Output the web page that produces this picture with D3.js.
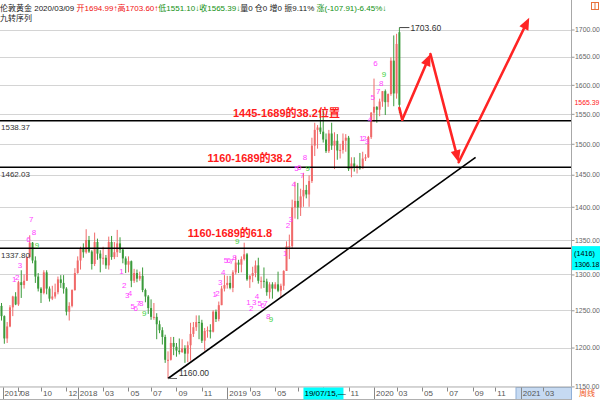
<!DOCTYPE html>
<html><head><meta charset="utf-8">
<script src="https://cdn.jsdelivr.net/npm/d3@7"></script>
<style>
body{margin:0;background:#fff;}
svg{display:block;font-family:"Liberation Sans",Arial,"Noto Sans CJK SC",sans-serif;}
</style>
</head><body><svg id="c" width="600" height="400"></svg>
<script>
// ---------- DATA ----------
const dates = ["2017-06-26","2017-07-03","2017-07-10","2017-07-17","2017-07-24","2017-07-31","2017-08-07","2017-08-14","2017-08-21","2017-08-28","2017-09-04","2017-09-11","2017-09-18","2017-09-25","2017-10-02","2017-10-09","2017-10-16","2017-10-23","2017-10-30","2017-11-06","2017-11-13","2017-11-20","2017-11-27","2017-12-04","2017-12-11","2017-12-18","2017-12-25",
"2018-01-01","2018-01-08","2018-01-15","2018-01-22","2018-01-29","2018-02-05","2018-02-12","2018-02-19","2018-02-26","2018-03-05","2018-03-12","2018-03-19","2018-03-26","2018-04-02","2018-04-09","2018-04-16","2018-04-23","2018-04-30","2018-05-07","2018-05-14","2018-05-21","2018-05-28","2018-06-04","2018-06-11","2018-06-18","2018-06-25","2018-07-02","2018-07-09","2018-07-16","2018-07-23","2018-07-30","2018-08-06","2018-08-13","2018-08-20","2018-08-27","2018-09-03","2018-09-10","2018-09-17","2018-09-24","2018-10-01","2018-10-08","2018-10-15","2018-10-22","2018-10-29","2018-11-05","2018-11-12","2018-11-19","2018-11-26","2018-12-03","2018-12-10","2018-12-17","2018-12-24","2018-12-31",
"2019-01-07","2019-01-14","2019-01-21","2019-01-28","2019-02-04","2019-02-11","2019-02-18","2019-02-25","2019-03-04","2019-03-11","2019-03-18","2019-03-25","2019-04-01","2019-04-08","2019-04-15","2019-04-22","2019-04-29","2019-05-06","2019-05-13","2019-05-20","2019-05-27","2019-06-03","2019-06-10","2019-06-17","2019-06-24","2019-07-01","2019-07-08","2019-07-15","2019-07-22","2019-07-29","2019-08-05","2019-08-12","2019-08-19","2019-08-26","2019-09-02","2019-09-09","2019-09-16","2019-09-23","2019-09-30","2019-10-07","2019-10-14","2019-10-21","2019-10-28","2019-11-04","2019-11-11","2019-11-18","2019-11-25","2019-12-02","2019-12-09","2019-12-16","2019-12-23","2019-12-30",
"2020-01-06","2020-01-13","2020-01-20","2020-01-27","2020-02-03","2020-02-10","2020-02-17","2020-02-24","2020-03-02","2020-03-09"];
const opens = [1256,1242,1212,1228,1254,1269,1258,1289,1285,1291,1325,1346,1320,1297,1280,1274,1303,1280,1266,1269,1275,1293,1288,1280,1248,1256,1278,
1302,1320,1338,1332,1350,1333,1315,1347,1330,1323,1324,1313,1347,1325,1332,1345,1336,1323,1314,1319,1291,1302,1294,1298,1278,1269,1253,1241,1241,1231,1223,1214,1184,1184,1206,1201,1196,1194,1199,1192,1203,1218,1227,1234,1233,1209,1222,1223,1221,1248,1238,1257,1280,
1285,1288,1281,1303,1317,1314,1322,1329,1293,1298,1302,1313,1291,1291,1290,1275,1286,1280,1286,1277,1284,1305,1341,1341,1399,1409,1399,1416,1426,1419,1440,1497,1523,1527,1520,1507,1488,1517,1497,1505,1489,1490,1505,1510,1459,1468,1462,1464,1460,1476,1478,1511,
1552,1562,1557,1571,1589,1570,1584,1643,1585,1694.99];
const highs = [1260,1243,1234,1257,1270,1275,1291,1306,1300,1326,1357,1347,1326,1302,1282,1306,1306,1283,1284,1287,1297,1299,1299,1282,1261,1279,1309,
1326,1340,1345,1366,1356,1335,1361,1352,1335,1340,1328,1355,1356,1347,1365,1354,1337,1326,1326,1320,1308,1307,1304,1310,1280,1271,1265,1260,1246,1236,1227,1217,1195,1214,1214,1206,1212,1211,1203,1208,1233,1234,1243,1243,1237,1226,1228,1231,1250,1251,1262,1284,1299,
1298,1298,1306,1326,1321,1326,1346,1331,1299,1311,1320,1324,1297,1310,1294,1289,1289,1289,1304,1287,1306,1348,1358,1411,1439,1437,1428,1453,1434,1449,1510,1535,1531,1555,1557,1517,1523,1535,1519,1516,1500,1517,1516,1513,1478,1478,1466,1485,1487,1483,1513,1553,
1611,1563,1576,1589,1592,1585,1649,1689,1692,1703.6];
const lows = [1236,1205,1206,1227,1242,1257,1256,1267,1280,1291,1323,1316,1288,1276,1260,1272,1272,1262,1264,1266,1272,1281,1273,1243,1236,1254,1277,
1301,1307,1324,1330,1331,1307,1312,1321,1303,1314,1308,1307,1321,1322,1325,1331,1316,1302,1303,1282,1288,1289,1291,1275,1261,1245,1237,1237,1211,1219,1204,1180,1160,1183,1190,1188,1191,1193,1180,1181,1183,1214,1222,1211,1206,1196,1213,1212,1220,1234,1235,1257,1276,
1280,1279,1275,1300,1302,1303,1320,1291,1281,1289,1296,1287,1280,1281,1270,1266,1266,1279,1275,1268,1278,1305,1322,1337,1382,1381,1386,1400,1413,1400,1437,1480,1492,1516,1502,1485,1485,1490,1459,1474,1476,1484,1487,1456,1446,1455,1452,1458,1460,1472,1477,1508,
1536,1535,1546,1562,1548,1562,1581,1563,1576,1551.1];
const closes = [1242,1212,1228,1254,1269,1258,1289,1285,1291,1325,1346,1320,1297,1280,1274,1303,1280,1266,1269,1275,1293,1288,1280,1248,1256,1278,1302,
1320,1338,1332,1350,1333,1315,1347,1330,1323,1324,1313,1347,1325,1332,1345,1336,1323,1314,1319,1291,1302,1294,1298,1278,1269,1253,1241,1241,1231,1223,1214,1184,1184,1206,1201,1196,1194,1199,1192,1203,1218,1227,1234,1233,1209,1222,1223,1221,1248,1238,1257,1280,1285,
1288,1281,1303,1317,1314,1322,1329,1293,1298,1302,1313,1291,1291,1290,1275,1286,1280,1286,1277,1284,1305,1341,1341,1399,1409,1399,1416,1426,1419,1440,1497,1523,1527,1520,1507,1488,1517,1497,1505,1489,1490,1505,1510,1459,1468,1462,1464,1460,1476,1478,1511,1552,
1562,1557,1571,1589,1570,1584,1643,1585,1673.3,1565.39];

// TD sequential (九转) labels
const tdDates = ["2017-07-24","2017-07-31","2017-08-07","2017-08-28","2017-09-04","2017-09-11","2017-09-18",
"2018-04-16","2018-04-23","2018-04-30","2018-05-07","2018-05-14","2018-05-21","2018-05-28","2018-06-04","2018-06-11",
"2018-12-03","2018-12-10","2018-12-17","2018-12-24","2018-12-31","2019-01-07","2019-01-14","2019-01-21","2019-01-28",
"2019-02-25","2019-03-04","2019-03-11","2019-03-18","2019-03-25","2019-04-01","2019-04-08","2019-04-15","2019-04-22",
"2019-05-27","2019-06-03","2019-06-10","2019-06-17","2019-06-24","2019-07-01","2019-07-08","2019-07-15","2019-07-22",
"2019-12-02","2019-12-09","2019-12-16","2019-12-23","2019-12-30","2020-01-06","2020-01-13","2020-01-20","2020-01-27"];
const tdTexts = ["1","2","3","6","7","8","9",
"1","2","3","4","5","6","7","8","9",
"1","2","3","4","5","6","7","8","9",
"1","2","3","4","5","6","7","8","9",
"1","2","3","4","5","6","7","8","9",
"1","2","3","4","5","6","7","8","9"];
const tdPrices = [1293,1297,1313,1351,1381,1362,1342,
1305,1285,1271,1274,1256,1253,1260,1260,1246,
1272,1274,1289,1303,1321,1321,1319,1325,1348,
1261,1253,1261,1270,1260,1257,1260,1242,1238,
1331,1372,1381,1435,1461,1462,1450,1478,1461,
1509,1509,1505,1541,1579,1639,1589,1603,1619];

// horizontal support/resistance levels
const levelValues = [1538.37,1462.03,1337.80];
// trend line (date, price)
const trendDates = ["2018-08-13","2020-09-14"];
const trendPrices = [1160,1478];
// red projection arrows (date, price)
const arrowDates = ["2020-03-09","2020-03-16","2020-05-25","2020-08-03","2021-01-25"];
const arrowPrices = [1560,1540,1655,1470,1722];
// red annotations
const noteTexts = ["1445-1689的38.2位置","1160-1689的38.2","1160-1689的61.8"];
const noteDates = ["2019-01-21","2018-11-19","2018-10-01"];
const notePrices = [1545,1470,1355];
// axis
const priceTicks = [1150,1200,1250,1300,1350,1400,1450,1500,1550,1600,1650,1700];
const monthDates = ["2017-06-26","2017-08-07","2017-10-02","2017-12-04","2018-01-01","2018-03-05","2018-05-07","2018-07-02","2018-09-03","2018-11-05","2019-01-07","2019-03-04","2019-05-06","2019-07-01","2019-09-02","2019-11-04","2020-01-06","2020-03-02","2020-05-04","2020-07-06","2020-09-07","2020-11-02","2021-01-04","2021-03-01"];
const monthLabels = ["2017","08","10","12","2018","03","05","07","09","11","2019","03","05","07","09","11","2020","03","05","07","09","11","2021","03"];
const isYear = monthLabels.map(s=>s.length===4);
// header
const headerParts = [["伦敦黄金 2020/03/09 ","#222"],["开1694.99↑","#f01010"],["高1703.60↑","#f01010"],["低1551.10↓","#109010"],["收1565.39↓","#109010"],["量0 仓0 增0 振9.11% ","#222"],["涨(-107.91)-6.45%↓","#109010"]];
const subTitle = "九转序列";
const lastPrice = 1565.39;
const cursorDate = "2019-07-15", cursorPrice = 1306.18, cursorTag = "(1416)", cursorDateText = "19/07/15,—";
const periodText = "周线";

// ---------- CHART ----------
const parse = d3.timeParse("%Y-%m-%d");
const svg = d3.select("#c");
const plotR = 571.5, plotB = 386.5;
const FS = 8, AFS = 6.9;
const x = d3.scaleTime().domain([parse("2018-01-01"), parse("2020-01-06")]).range([77.7, 374]);
const y = d3.scaleLog().domain([1150, 1700]).range([386.4, 29.5]);

svg.append("defs").append("clipPath").attr("id","clip")
  .append("rect").attr("x",0).attr("y",0).attr("width",plotR).attr("height",plotB);

// header
const ht = svg.append("text").attr("x",0).attr("y",11).attr("font-size",FS);
headerParts.forEach(p=>ht.append("tspan").attr("fill",p[1]).text(p[0]));
svg.append("text").attr("x",0).attr("y",21).attr("font-size",FS).attr("fill","#222").text(subTitle);
svg.append("rect").attr("x",591.5).attr("y",2.5).attr("width",7).attr("height",7).attr("fill","none").attr("stroke","#e8703a");
svg.append("line").attr("x1",595).attr("x2",595).attr("y1",3).attr("y2",9).attr("stroke","#e8703a");

const plot = svg.append("g").attr("clip-path","url(#clip)");

// grid
plot.selectAll(".grid").data(priceTicks).join("line")
  .attr("x1",0).attr("x2",plotR).attr("y1",d=>Math.round(y(d))+0.5).attr("y2",d=>Math.round(y(d))+0.5)
  .attr("stroke","#d4d4d4").attr("stroke-width",1);

// candles
const bars = dates.map((d,i)=>({d:parse(d),o:opens[i],h:highs[i],l:lows[i],c:closes[i]}));
const upC = "#f06a6a", dnC = "#3a9a3a";
const cg = plot.append("g");
cg.selectAll("line").data(bars).join("line")
  .attr("x1",b=>x(b.d)).attr("x2",b=>x(b.d)).attr("y1",b=>y(b.h)).attr("y2",b=>y(b.l))
  .attr("stroke",b=>b.c>=b.o?upC:dnC).attr("stroke-width",1);
cg.selectAll("rect").data(bars).join("rect")
  .attr("x",b=>x(b.d)-1).attr("width",2)
  .attr("y",b=>y(Math.max(b.o,b.c))).attr("height",b=>Math.max(1,Math.abs(y(b.o)-y(b.c))))
  .attr("fill",b=>b.c>=b.o?upC:dnC);

// levels
plot.selectAll(".lvl").data(levelValues).join("line")
  .attr("x1",0).attr("x2",plotR).attr("y1",d=>y(d)).attr("y2",d=>y(d))
  .attr("stroke","#000").attr("stroke-width",1.6);
svg.selectAll(".lvlt").data(levelValues).join("text")
  .attr("x",1).attr("y",d=>y(d)+9.5).attr("font-size",FS).attr("fill","#333").text(d=>d.toFixed(2));

// TD labels
plot.selectAll(".td").data(tdDates).join("text")
  .attr("x",(d,i)=>x(parse(d))+1.5).attr("y",(d,i)=>y(tdPrices[i])+3)
  .attr("text-anchor","middle").attr("font-size",8)
  .attr("fill",(d,i)=>tdTexts[i]==="9"?"#3cd23c":"#ff44ff").text((d,i)=>tdTexts[i]);

// trend line
plot.append("line")
  .attr("x1",x(parse(trendDates[0]))).attr("y1",y(trendPrices[0]))
  .attr("x2",x(parse(trendDates[1]))).attr("y2",y(trendPrices[1]))
  .attr("stroke","#000").attr("stroke-width",1.6);

// high / low markers
const hiIdx = d3.maxIndex(highs), loIdx = d3.minIndex(lows);
const hx = x(parse(dates[hiIdx])), hy = y(highs[hiIdx]);
svg.append("line").attr("x1",hx).attr("x2",hx+10).attr("y1",hy).attr("y2",hy).attr("stroke","#444");
svg.append("text").attr("x",hx+11).attr("y",hy+3).attr("font-size",FS+0.5).attr("fill","#333").text(highs[hiIdx].toFixed(2));
const lx = x(parse(dates[loIdx])), ly = y(lows[loIdx]);
svg.append("line").attr("x1",lx).attr("x2",lx+9).attr("y1",ly).attr("y2",ly).attr("stroke","#666");
svg.append("text").attr("x",lx+11).attr("y",ly-2).attr("font-size",FS+0.5).attr("fill","#333").text(lows[loIdx].toFixed(2));

// red arrows
const red = "#ff2424";
const pts = arrowDates.map((d,i)=>[x(parse(d)), y(arrowPrices[i])]);
const ag = svg.append("g");
function arrowSeg(p0,p1,head){
  const dx=p1[0]-p0[0], dy=p1[1]-p0[1], L=Math.hypot(dx,dy), ux=dx/L, uy=dy/L;
  const hl = head?12:0, hw=5;
  const bx=p1[0]-ux*hl, by=p1[1]-uy*hl;
  ag.append("line").attr("x1",p0[0]).attr("y1",p0[1]).attr("x2",bx).attr("y2",by)
    .attr("stroke",red).attr("stroke-width",2.6).attr("stroke-linecap","round");
  if(head){
    ag.append("path").attr("d",`M${p1[0]},${p1[1]}L${bx-uy*hw},${by+ux*hw}L${bx+uy*hw},${by-ux*hw}Z`).attr("fill",red);
  }
}
arrowSeg(pts[0],pts[1],false);
arrowSeg(pts[1],pts[2],true);
arrowSeg(pts[2],pts[3],true);
arrowSeg(pts[3],pts[4],true);

// red notes
svg.selectAll(".note").data(noteTexts).join("text")
  .attr("x",(d,i)=>x(parse(noteDates[i]))).attr("y",(d,i)=>y(notePrices[i]))
  .attr("font-size",11).attr("font-weight","bold").attr("fill","#ff1a1a").text(d=>d);

// right axis
svg.append("line").attr("x1",plotR).attr("x2",plotR).attr("y1",0).attr("y2",400).attr("stroke","#a8a8a8");
const ra = svg.append("g").attr("transform",`translate(${plotR},0)`)
  .call(d3.axisRight(y).tickValues(priceTicks).tickFormat(d3.format(".2f")).tickSize(3).tickPadding(0.5));
ra.select(".domain").remove();
ra.selectAll("line").attr("stroke","#999");
ra.selectAll("text").attr("font-size",AFS).attr("fill","#666");
svg.append("text").attr("x",574.5).attr("y",y(lastPrice)+0.5).attr("font-size",AFS).attr("fill","#ff2020").text(lastPrice.toFixed(2));

// cursor price box
const cy = y(cursorPrice);
svg.append("rect").attr("x",572).attr("y",cy-24).attr("width",28).attr("height",24).attr("fill","#00ffff");
svg.append("text").attr("x",574).attr("y",cy-14).attr("font-size",AFS+0.3).attr("fill","#000").text(cursorTag);
svg.append("text").attr("x",574.5).attr("y",cy-3).attr("font-size",AFS).attr("fill","#000").text(cursorPrice.toFixed(2));

// bottom axis strip
svg.append("rect").attr("x",0).attr("y",plotB).attr("width",plotR).attr("height",400-plotB).attr("fill","#fff");
svg.append("rect").attr("x",516).attr("y",plotB+1).attr("width",plotR-516).attr("height",12).attr("fill","#c6daf2").attr("stroke","#8fb0d8");
svg.append("line").attr("x1",0).attr("x2",plotR).attr("y1",plotB+0.5).attr("y2",plotB+0.5).attr("stroke","#b0b0b0");
svg.append("line").attr("x1",0).attr("x2",plotR).attr("y1",399.5).attr("y2",399.5).attr("stroke","#b0b0b0");
const mx = monthDates.map(d=>Math.max(2.5,x(parse(d))));
svg.selectAll(".mt").data(monthLabels).join("line")
  .attr("x1",(d,i)=>Math.round(mx[i])+0.5).attr("x2",(d,i)=>Math.round(mx[i])+0.5)
  .attr("y1",plotB+1).attr("y2",(d,i)=>isYear[i]?399:plotB+5).attr("stroke","#888");
const cx = x(parse(cursorDate));
svg.selectAll(".ml").data(monthLabels).join("text")
  .attr("x",(d,i)=>mx[i]+2).attr("y",396).attr("font-size",FS).attr("fill","#555")
  .text((d,i)=>(mx[i]+14>cx && mx[i]<cx+40)?"":d);
svg.append("rect").attr("x",cx).attr("y",plotB+1).attr("width",40).attr("height",12).attr("fill","#00ffff");
svg.append("text").attr("x",cx+1).attr("y",396).attr("font-size",FS).attr("fill","#000").text(cursorDateText);
svg.append("text").attr("x",579).attr("y",396).attr("font-size",FS).attr("fill","#f05a1e").text(periodText);
</script>
</body></html>
